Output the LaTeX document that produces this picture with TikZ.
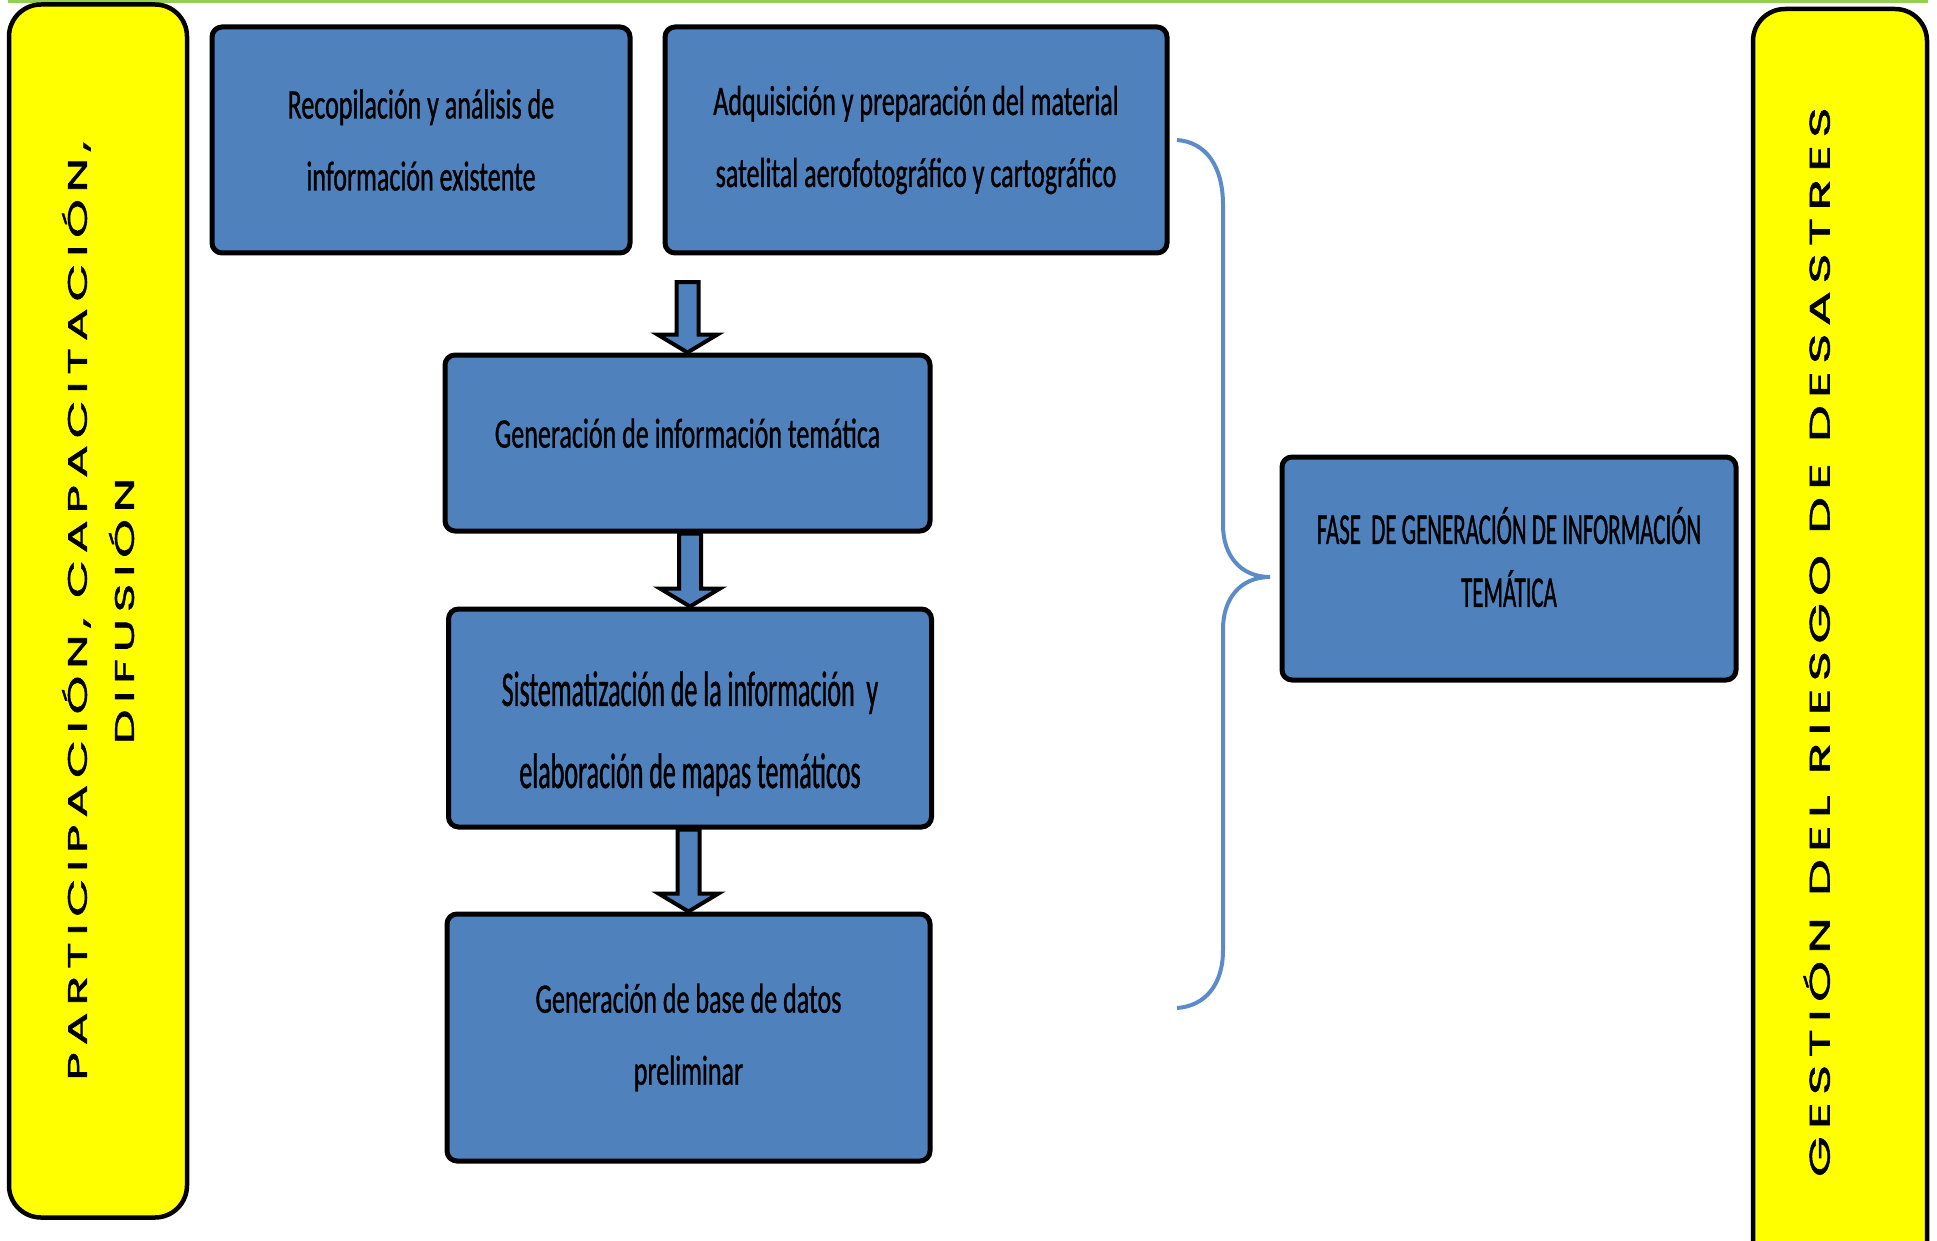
\documentclass[tikz,border=0pt]{standalone}
\usepackage{fontspec}
\usepackage{graphicx}
\usetikzlibrary{calc}
\newfontfamily\boxfont[FakeStretch=0.62,FakeBold=0.8]{Carlito}
\newfontfamily\tallfont[FakeStretch=0.52,FakeBold=0.8]{Carlito}
\newfontfamily\barfont[LetterSpace=14,FakeBold=1.5]{Poppins}
\newcommand{\barline}[1]{\scalebox{1}[0.55]{#1}}
\definecolor{boxblue}{HTML}{4F81BD}
\definecolor{braceblue}{HTML}{5B8CC9}
\definecolor{topgreen}{HTML}{92D050}
\definecolor{baryellow}{HTML}{FFFF00}

\begin{document}
\begin{tikzpicture}[x=1pt,y=-1pt,
    blk/.style={draw=black,line width=5pt,fill=boxblue,rounded corners=10pt,align=center,inner sep=0pt,
        font=\boxfont\fontsize{42pt}{72pt}\selectfont},
    bar/.style={draw=black,line width=4.5pt,fill=baryellow,rounded corners=32pt,rotate=90,align=center,inner sep=0pt,
        font=\barfont\fontsize{52pt}{47pt}\selectfont},
    blockarrow/.style={draw=black,line width=4pt,fill=boxblue,
        to path={let \p1=(\tikztostart),\p2=(\tikztotarget) in
            (\x2-11pt,\y1) -- (\x2-11pt,\y2+18pt) -- (\x2-30pt,\y2+18pt) -- (\x2,\y2)
            -- (\x2+30pt,\y2+18pt) -- (\x2+11pt,\y2+18pt) -- (\x2+11pt,\y1) -- cycle}}]
    \useasboundingbox (0,0) rectangle (1937,1241);
    \clip (0,0) rectangle (1937,1241);
    \fill[topgreen] (8,0) rectangle (1928,3.5);
    % side bars
    \node[bar,minimum width=1213pt,minimum height=178pt,font=\barfont\fontsize{49pt}{47pt}\selectfont] (partic) at (98,611)
        {\barline{PARTICIPACIÓN, CAPACITACIÓN,}\\\barline{DIFUSIÓN}};
    \node[bar,minimum width=1266pt,minimum height=174pt] (gestion) at (1840,642)
        {\barline{GESTIÓN DEL RIESGO DE DESASTRES}\\\mbox{}};
    % flow
    \node[blk,minimum width=418pt,minimum height=226pt] (recop) at (421,140)
        {Recopilación y análisis de\\información existente};
    \node[blk,minimum width=502pt,minimum height=226pt] (adq) at (916,140)
        {Adquisición y preparación del material\\satelital aerofotográfico y cartográfico};
    \node[blk,minimum width=485pt,minimum height=176pt] (gentem) at (687.5,443)
        {Generación de información temática\\[-52pt]\mbox{}};
    \node[blk,minimum width=483pt,minimum height=218pt,font=\tallfont\fontsize{50pt}{82pt}\selectfont] (sistem) at (690,718)
        {\rule{0pt}{66pt}Sistematización de la información\ \ y\\elaboración de mapas temáticos};
    \node[blk,minimum width=483pt,minimum height=247pt] (basedat) at (688.5,1037.5)
        {Generación de base de datos\\preliminar};
    \node[blk,minimum width=454pt,minimum height=223pt,font=\tallfont\fontsize{44pt}{63pt}\selectfont] (fase) at (1509,568.5)
        {FASE\ \ DE GENERACIÓN DE INFORMACIÓN\\TEMÁTICA\\[-40pt]\mbox{}};
    \coordinate (arr1) at (684,282);
    \draw[blockarrow] (arr1) to (gentem.north);
    \draw[blockarrow] (gentem.south) to (sistem.north);
    \draw[blockarrow] (sistem.south) to (basedat.north);
    % brace
    \coordinate (brtop) at (1177,140);
    \coordinate (brtip) at (1270,577);
    \coordinate (brbot) at (1177,1008);
    \draw[braceblue,line width=4pt] (brtop) .. controls (1205,142) and (1223,165) .. (1223,205) -- (1223,525)
        .. controls (1223,555) and (1240,577) .. (brtip)
        .. controls (1240,577) and (1223,599) .. (1223,629) -- (1223,950)
        .. controls (1223,985) and (1205,1006) .. (brbot);
\end{tikzpicture}
\end{document}
